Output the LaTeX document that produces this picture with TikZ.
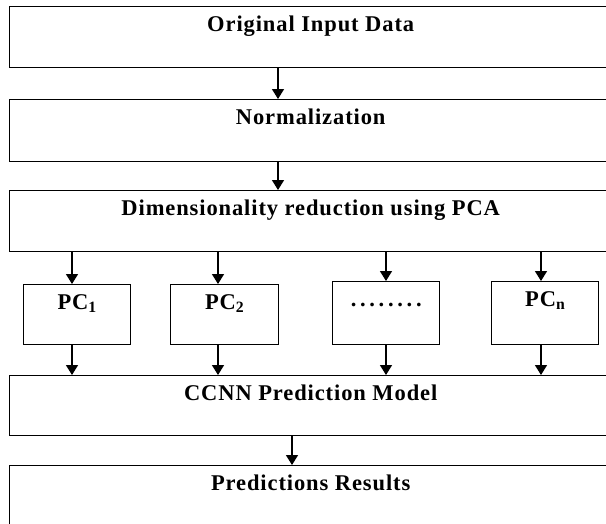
\documentclass[tikz,border=0pt]{standalone}
\usepackage{fontspec}
\newfontfamily\boxfont{Liberation Serif}[LetterSpace=4]
\usetikzlibrary{arrows.meta}
\tikzset{
  box/.style={draw=black, line width=1.4pt, rectangle, inner sep=0pt,
    text height=24.5pt, anchor=north west,
    font=\boxfont\bfseries\fontsize{22.5}{25}\selectfont},
  wide/.style={box, minimum width=602pt},
  pcbox/.style={box, minimum width=107pt},
  arr/.style={draw=black, line width=1.4pt, -{Triangle[width=12pt,length=10pt]}}
}
\newcommand{\dotrow}{.\kern3.7pt.\kern3.7pt.\kern3.7pt.\kern3.7pt.\kern3.7pt.\kern3.7pt.\kern3.7pt.}
\begin{document}
\begin{tikzpicture}[x=1pt, y=-1pt]
  \useasboundingbox (0,0) rectangle (606,523);
  \fill[white] (0,0) rectangle (606,523);
  \clip (0,0) rectangle (606,523);

  \node[wide, text depth=36.5pt] (orig) at (9,6) {Original Input Data};
  \node[wide, text depth=37.5pt] (norm) at (9,99) {Normalization};
  \node[wide, text depth=36.5pt] (pca) at (9,190) {Dimensionality reduction using PCA};

  \node[pcbox, text depth=35.5pt] (pc1) at (23,284) {PC\textsubscript{1}};
  \node[pcbox, text depth=35.5pt, minimum width=108pt] (pc2) at (170,284) {PC\textsubscript{2}};
  \node[pcbox, text depth=38.5pt] (pcd) at (332,281) {\dotrow};
  \node[pcbox, text depth=38.5pt] (pcn) at (491,281) {PC\textsubscript{n}};

  \node[wide, text depth=35.5pt] (ccnn) at (9,375) {CCNN Prediction Model};
  \node[wide, text depth=45.5pt] (res) at (9,465) {Predictions Results};

  \draw[arr] (orig.south -| 278,0) -- (norm.north -| 278,0);
  \draw[arr] (norm.south -| 278,0) -- (pca.north -| 278,0);

  \draw[arr] (pca.south -| 72,0) -- (pc1.north -| 72,0);
  \draw[arr] (pca.south -| 218,0) -- (pc2.north -| 218,0);
  \draw[arr] (pca.south -| 386,0) -- (pcd.north -| 386,0);
  \draw[arr] (pca.south -| 541,0) -- (pcn.north -| 541,0);

  \draw[arr] (pc1.south -| 72,0) -- (ccnn.north -| 72,0);
  \draw[arr] (pc2.south -| 218,0) -- (ccnn.north -| 218,0);
  \draw[arr] (pcd.south -| 386,0) -- (ccnn.north -| 386,0);
  \draw[arr] (pcn.south -| 541,0) -- (ccnn.north -| 541,0);

  \draw[arr] (ccnn.south -| 292,0) -- (res.north -| 292,0);
\end{tikzpicture}
\end{document}
